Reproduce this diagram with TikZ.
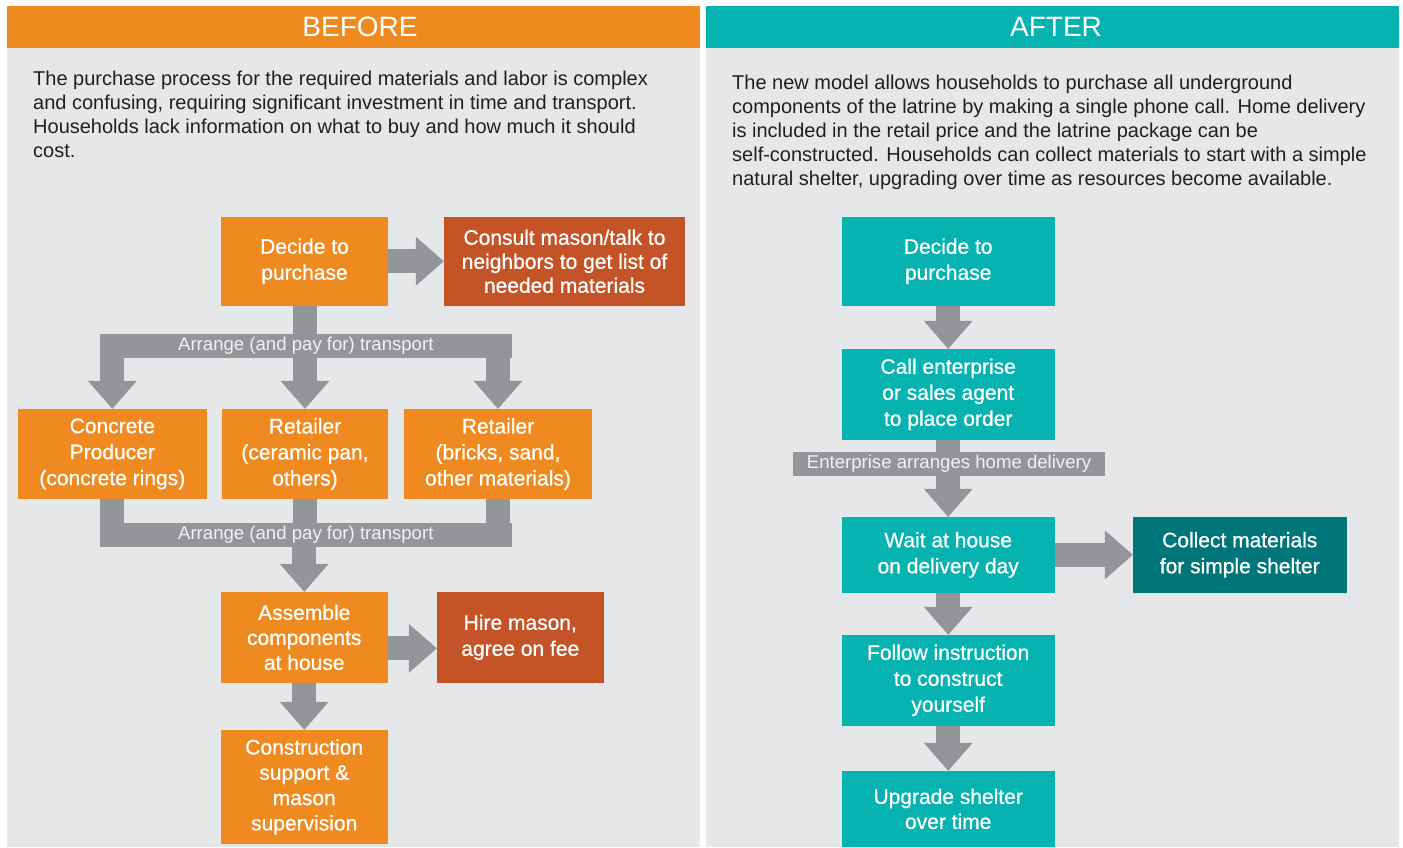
\documentclass[tikz,border=0pt]{standalone}
\usepackage{fontspec}
\setmainfont{Liberation Sans}
\newfontfamily\boxfont[FakeBold=0.7]{Liberation Sans}
\usetikzlibrary{arrows.meta}
\definecolor{cOrange}{HTML}{EE8A20}
\definecolor{cRust}{HTML}{C45428}
\definecolor{cTeal}{HTML}{07B3B1}
\definecolor{cDarkTeal}{HTML}{00767A}
\definecolor{cGray}{HTML}{939598}
\definecolor{cPanel}{HTML}{E6E7E8}
\definecolor{cText}{HTML}{231F20}
\definecolor{cBarText}{HTML}{F2F2F3}
\pgfdeclarelayer{back}
\pgfdeclarelayer{mid}
\pgfsetlayers{back,mid,main}
\begin{document}
\begin{tikzpicture}[x=1pt,y=-1pt,
  box/.style={text=white, align=center, inner sep=0pt, font=\boxfont\fontsize{21}{26}\selectfont},
  bar/.style={fill=cGray, text=cBarText, inner sep=0pt, font=\fontsize{18.6}{20}\selectfont},
  shaft/.style={draw=cGray, line width=24pt},
  barrow/.style={shaft, -{Triangle[length=28pt,width=49pt,line width=0pt]}},
  para/.style={anchor=north west, inner sep=0pt, align=left, text=cText, font=\fontsize{20}{24}\selectfont},
  head/.style={text=white, font=\fontsize{28}{32}\selectfont}
]
\useasboundingbox (0,0) rectangle (1403,848);
\begin{pgfonlayer}{back}
\fill[white] (0,0) rectangle (1403,848);
\fill[cOrange] (7,6) rectangle (700,48);
\fill[cTeal] (706,6) rectangle (1399,48);
\fill[cPanel] (7,48) rectangle (700,847);
\fill[cPanel] (706,48) rectangle (1399,847);
\end{pgfonlayer}

\node[head] (hb) at (360,27) {BEFORE};
\node[head] (ha) at (1056,27) {AFTER};

\node[para] (pb) at (33,70.6) {The purchase process for the required materials and labor is complex\\and confusing, requiring significant investment in time and transport.\\Households lack information on what to buy and how much it should\\cost.};
\node[para] (pa) at (732,74.6) {The new model allows households to purchase all underground\\components of the latrine by making a single phone call. Home delivery\\is included in the retail price and the latrine package can be\\self-constructed. Households can collect materials to start with a simple\\natural shelter, upgrading over time as resources become available.};

% BEFORE boxes
\node[box, fill=cOrange, minimum width=167pt, minimum height=88.5pt] (dec1) at (304.5,261.25) {Decide to\\purchase};
\node[box, fill=cRust, minimum width=241pt, minimum height=88.5pt, font=\boxfont\fontsize{21}{24}\selectfont] (cons) at (564.5,261.25) {Consult mason/talk to\\neighbors to get list of\\needed materials};
\node[bar, minimum width=411.6pt, minimum height=23.7pt] (bar1) at (305.8,345.85) {Arrange (and pay for) transport};
\node[box, fill=cOrange, minimum width=188.7pt, minimum height=90pt] (conc) at (112.35,454) {Concrete\\Producer\\(concrete rings)};
\node[box, fill=cOrange, minimum width=166pt, minimum height=90pt] (ret1) at (305,454) {Retailer\\(ceramic pan,\\others)};
\node[box, fill=cOrange, minimum width=188pt, minimum height=90pt] (ret2) at (498,454) {Retailer\\(bricks, sand,\\other materials)};
\node[bar, minimum width=411.6pt, minimum height=23.7pt] (bar2) at (305.8,534.85) {Arrange (and pay for) transport};
\node[box, fill=cOrange, minimum width=166.5pt, minimum height=90.7pt, font=\boxfont\fontsize{21}{25}\selectfont] (asm) at (304.25,637.35) {Assemble\\components\\at house};
\node[box, fill=cRust, minimum width=166.6pt, minimum height=90.7pt] (hire) at (520.3,637.35) {Hire mason,\\agree on fee};
\node[box, fill=cOrange, minimum width=166.5pt, minimum height=114pt, font=\boxfont\fontsize{21}{25.3}\selectfont] (cstr) at (304.25,787) {Construction\\support \&\\mason\\supervision};

% AFTER boxes
\node[box, fill=cTeal, minimum width=213.2pt, minimum height=88.7pt] (dec2) at (948.2,261.35) {Decide to\\purchase};
\node[box, fill=cTeal, minimum width=213.2pt, minimum height=90.7pt] (call) at (948.2,394.35) {Call enterprise\\or sales agent\\to place order};
\node[bar, minimum width=312pt, minimum height=23.7pt] (bar3) at (949,463.85) {Enterprise arranges home delivery};
\node[box, fill=cTeal, minimum width=213.2pt, minimum height=75.7pt] (wait) at (948.2,554.85) {Wait at house\\on delivery day};
\node[box, fill=cDarkTeal, minimum width=213.5pt, minimum height=75.7pt] (coll) at (1239.75,554.85) {Collect materials\\for simple shelter};
\node[box, fill=cTeal, minimum width=213.2pt, minimum height=90.7pt] (foll) at (948.2,680.35) {Follow instruction\\to construct\\yourself};
\node[box, fill=cTeal, minimum width=213.2pt, minimum height=75.7pt, font=\boxfont\fontsize{21}{25}\selectfont] (upg) at (948.2,808.85) {Upgrade shelter\\over time};

\begin{pgfonlayer}{mid}
\draw[barrow] (dec1.east) -- (cons.west);
\draw[shaft] (dec1.south) -- ([yshift=-1pt]dec1.south |- bar1.north);
\draw[barrow] ([yshift=1pt]bar1.south -| conc.north) -- (conc.north);
\draw[barrow] ([yshift=1pt]bar1.south -| ret1.north) -- (ret1.north);
\draw[barrow] ([yshift=1pt]bar1.south -| ret2.north) -- (ret2.north);
\draw[shaft] (conc.south) -- ([yshift=-1pt]conc.south |- bar2.north);
\draw[shaft] (ret1.south) -- ([yshift=-1pt]ret1.south |- bar2.north);
\draw[shaft] (ret2.south) -- ([yshift=-1pt]ret2.south |- bar2.north);
\draw[barrow] ([yshift=1pt]bar2.south -| asm.north) -- (asm.north);
\draw[barrow] ([yshift=-11pt]asm.east) -- ([yshift=-11pt]hire.west);
\draw[barrow] (asm.south) -- (cstr.north);
\draw[barrow] (dec2.south) -- (call.north);
\draw[shaft] (call.south) -- ([yshift=-1pt]call.south |- bar3.north);
\draw[barrow] ([yshift=1pt]bar3.south -| wait.north) -- (wait.north);
\draw[barrow] (wait.east) -- (coll.west);
\draw[barrow] (wait.south) -- (foll.north);
\draw[barrow] (foll.south) -- (upg.north);
\end{pgfonlayer}
\end{tikzpicture}
\end{document}
